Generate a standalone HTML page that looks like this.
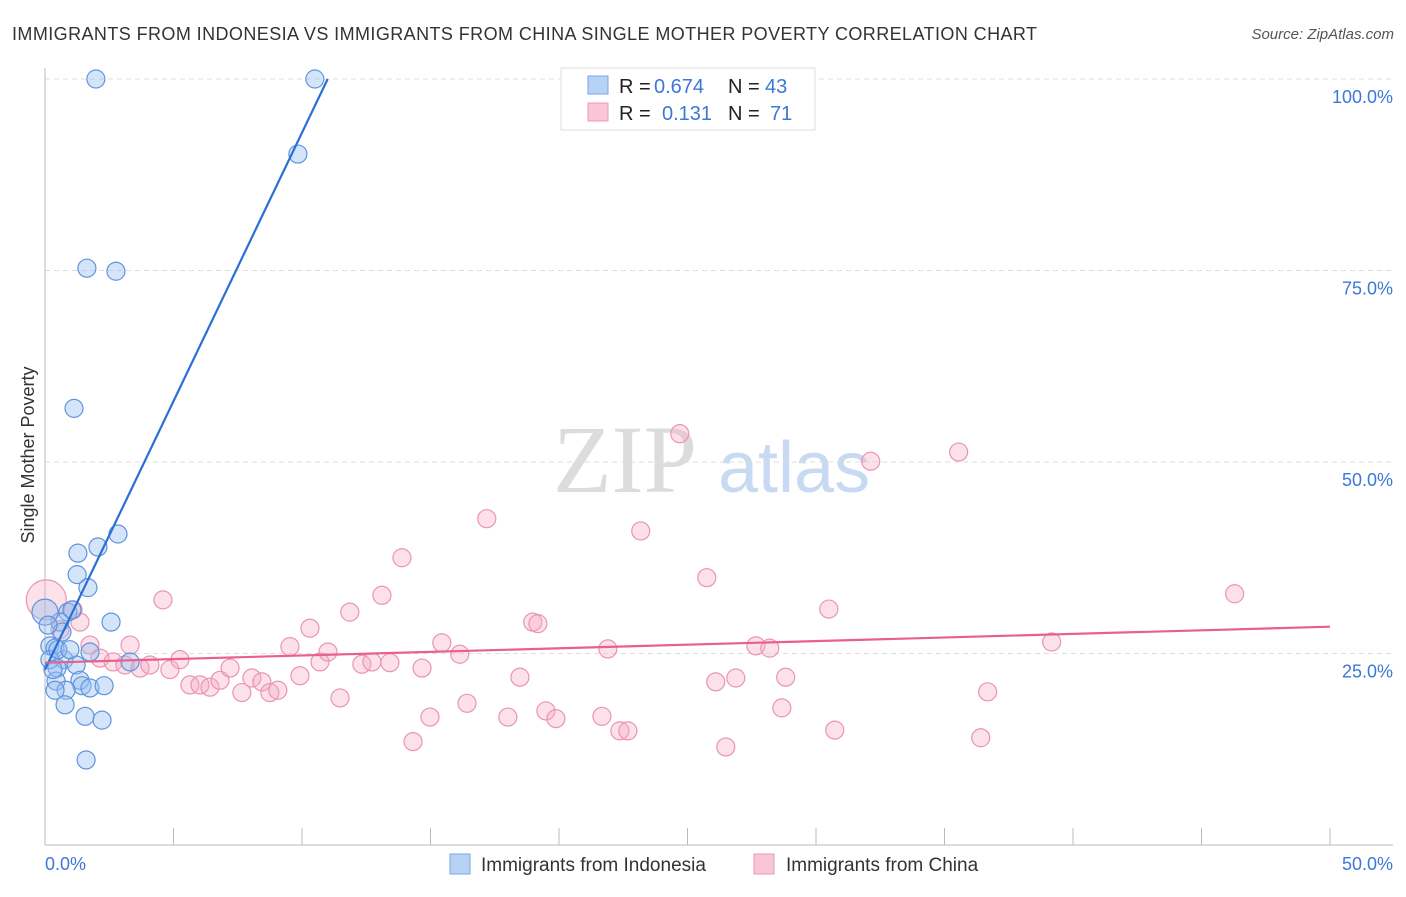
<!DOCTYPE html>
<html><head><meta charset="utf-8"><style>
body{margin:0;background:#fff;font-family:"Liberation Sans",sans-serif}
</style></head><body>
<svg width="1406" height="892" xmlns="http://www.w3.org/2000/svg">
<text x="12" y="40" font-size="18" fill="#333" textLength="1025">IMMIGRANTS FROM INDONESIA VS IMMIGRANTS FROM CHINA SINGLE MOTHER POVERTY CORRELATION CHART</text>
<text x="1394" y="39" font-size="15" fill="#555" font-style="italic" text-anchor="end">Source: ZipAtlas.com</text>
<g>
<text x="553" y="492" font-family="Liberation Serif" font-size="96" fill="#dcdcdc">ZIP</text>
<text x="718" y="492" font-size="72" fill="#c8daf2">atlas</text>
</g>
<g id="grid"></g>
<g id="axes"></g>
<g id="pts"></g>
<g id="lines"></g>
<text transform="translate(34,455) rotate(-90)" font-size="18" fill="#333" text-anchor="middle">Single Mother Poverty</text>
<text x="45" y="870" font-size="18" fill="#3b78d8">0.0%</text>
<text x="1393" y="870" font-size="18" fill="#3b78d8" text-anchor="end">50.0%</text>
<g>
<rect x="561" y="68" width="254" height="62" fill="#fff" stroke="#ddd"/>
<rect x="588" y="76" width="20" height="18" fill="#b8d2f5" stroke="#7aa6e6"/>
<rect x="588" y="103" width="20" height="18" fill="#f8c6d6" stroke="#ec9ab6"/>
<text x="619" y="93" font-size="20" fill="#222">R =</text>
<text x="654" y="93" font-size="20" fill="#3b78d8">0.674</text>
<text x="728" y="93" font-size="20" fill="#222">N =</text>
<text x="765" y="93" font-size="20" fill="#3b78d8">43</text>
<text x="619" y="120" font-size="20" fill="#222">R =</text>
<text x="662" y="120" font-size="20" fill="#3b78d8">0.131</text>
<text x="728" y="120" font-size="20" fill="#222">N =</text>
<text x="770" y="120" font-size="20" fill="#3b78d8">71</text>
</g>
<g>
<rect x="450" y="854" width="20" height="20" fill="#b8d2f5" stroke="#7aa6e6"/>
<text x="481" y="871" font-size="19" fill="#333">Immigrants from Indonesia</text>
<rect x="754" y="854" width="20" height="20" fill="#f8c6d6" stroke="#ec9ab6"/>
<text x="786" y="871" font-size="19" fill="#333">Immigrants from China</text>
</g>
</svg>
<script>
const yTicks=[25,50,75,100];
const xTickVals=[0,5,10,15,20,25,30,35,40,45,50];
const blueX=[1.98,10.5,9.84,1.63,2.76,1.13,2.84,2.06,1.28,1.25,1.67,0.89,1.05,2.57,0.58,0.66,0.19,0.39,1.75,0.74,1.21,0.47,3.31,1.36,0.43,1.44,0.82,1.75,2.30,0.39,0.78,1.56,2.22,1.60,0,0.19,0.5,0.97,0.12,0.31];
const blueY=[100,100,90.2,75.3,74.9,57.0,40.6,38.9,38.1,35.3,33.6,30.4,30.7,29.1,29.1,27.8,26.0,25.7,25.2,24.2,23.5,23.1,23.9,21.5,21.4,20.8,20.2,20.5,20.8,20.2,18.3,16.8,16.3,11.1,30.4,24.2,25.5,25.5,28.7,22.9];
const pinkX=[0.05,1.36,1.09,0.58,1.75,3.31,2.14,2.65,3.11,3.70,4.08,4.59,4.86,5.25,5.64,6.03,6.42,6.81,7.20,7.66,8.05,8.44,8.75,9.06,9.53,9.92,10.31,10.70,11.01,11.48,11.86,12.33,12.72,13.11,13.42,13.89,14.32,14.67,14.98,15.44,16.14,16.42,17.19,18.01,18.48,18.98,19.18,19.49,19.88,21.67,21.90,22.37,22.68,23.18,24.70,25.75,26.10,26.49,26.88,27.66,28.20,28.67,28.82,30.50,30.73,32.13,35.55,36.41,36.68,39.17,46.29];
const pinkY=[32.0,29.1,30.7,28.1,26.1,26.1,24.4,23.9,23.5,23.1,23.5,32.0,22.9,24.2,20.9,20.9,20.6,21.5,23.1,19.9,21.8,21.3,19.9,20.2,25.9,22.1,28.3,23.9,25.2,19.2,30.4,23.6,23.9,32.6,23.8,37.5,13.5,23.1,16.7,26.4,24.9,18.5,42.6,16.7,21.9,29.1,28.9,17.5,16.5,16.8,25.6,14.9,14.9,41.0,53.7,34.9,21.3,12.8,21.8,26.0,25.7,17.9,21.9,30.8,15.0,50.1,51.3,14.0,20.0,26.5,32.8];
const blueLine=[[0,22.9],[11.0,100]];
const pinkLine=[[0,23.8],[50,28.5]];
const NS='http://www.w3.org/2000/svg';
const sx=v=>45+v/50*1285, sy=v=>845-v/100*766;
function mk(t,a,p){const e=document.createElementNS(NS,t);for(const k in a)e.setAttribute(k,a[k]);document.getElementById(p).appendChild(e);return e;}
yTicks.forEach(t=>{
 const l=mk('line',{x1:45,x2:1393,y1:sy(t),y2:sy(t),stroke:'#ddd','stroke-dasharray':'5,4'},'grid');
 
 
 const tx=mk('text',{x:1393,y:sy(t)+24,'font-size':18,fill:'#3b78d8','text-anchor':'end'},'grid');
 tx.textContent=t.toFixed(1)+'%';
 
 
});
const ya=mk('line',{x1:45,x2:45,y1:68,y2:845,stroke:'#bbb'},'axes');


const xa=mk('line',{x1:45,x2:1393,y1:845,y2:845,stroke:'#bbb'},'axes');


xTickVals.forEach(v=>{
 const t=mk('line',{x1:sx(v),x2:sx(v),y1:828,y2:845,stroke:'#bbb'},'axes');
 
 
});
pinkX.forEach((x,i)=>{
 const c=mk('circle',{cx:sx(x),cy:sy(pinkY[i]),r:i===0?20:9,fill:'rgba(246,170,195,0.35)',stroke:'#ea94b2','stroke-width':1.2},'pts');
 
 
});
blueX.forEach((x,i)=>{
 const c=mk('circle',{cx:sx(x),cy:sy(blueY[i]),r:i===34?13:9,fill:'rgba(150,190,240,0.4)',stroke:'#5f94de','stroke-width':1.2},'pts');
 
 
});
const bl=mk('line',{x1:sx(blueLine[0][0]),y1:sy(blueLine[0][1]),x2:sx(blueLine[1][0]),y2:sy(blueLine[1][1]),stroke:'#2a6fd6','stroke-width':2.2},'lines');


const pl=mk('line',{x1:sx(pinkLine[0][0]),y1:sy(pinkLine[0][1]),x2:sx(pinkLine[1][0]),y2:sy(pinkLine[1][1]),stroke:'#e8608e','stroke-width':2.2},'lines');


</script>
</body></html>
